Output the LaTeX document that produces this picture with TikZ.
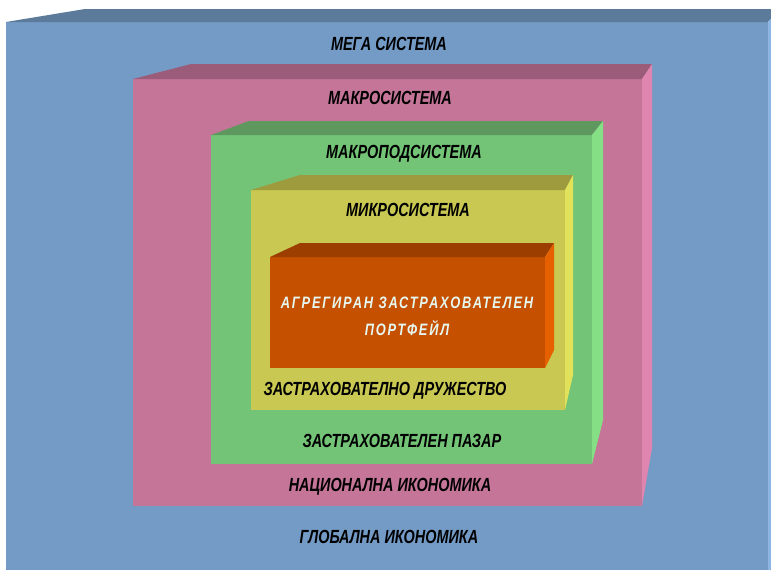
\documentclass[tikz,border=0pt]{standalone}
\usepackage{fontspec}
\newfontfamily\lbl[FakeStretch=0.76]{Liberation Sans}
\newfontfamily\lblsp[FakeStretch=0.78,LetterSpace=11]{Liberation Sans}
\definecolor{blueF}{RGB}{115,155,198}
\definecolor{blueT}{RGB}{92,123,154}
\definecolor{blueR}{RGB}{141,180,226}
\definecolor{pinkF}{RGB}{196,117,152}
\definecolor{pinkT}{RGB}{155,92,122}
\definecolor{pinkR}{RGB}{224,133,176}
\definecolor{greenF}{RGB}{115,196,119}
\definecolor{greenT}{RGB}{94,152,94}
\definecolor{greenR}{RGB}{133,224,133}
\definecolor{yellowF}{RGB}{200,200,82}
\definecolor{yellowT}{RGB}{158,154,62}
\definecolor{yellowR}{RGB}{226,226,90}
\definecolor{orangeF}{RGB}{196,80,0}
\definecolor{orangeT}{RGB}{155,62,0}
\definecolor{orangeR}{RGB}{230,96,0}
\definecolor{lighttext}{RGB}{230,248,240}
\tikzset{
  lab/.style={font=\lbl\bfseries\itshape\fontsize{19}{22}\selectfont, text=black, inner sep=0pt},
  labin/.style={font=\lblsp\bfseries\itshape\fontsize{16.5}{27}\selectfont, text=lighttext, inner sep=0pt, align=center},
}
\begin{document}
\begin{tikzpicture}[x=1pt,y=-1pt]
\useasboundingbox (0,0) rectangle (771,570);
\fill[white] (0,0) rectangle (771,570);
\clip (0,0) rectangle (771,570);
% blue (outer)
\fill[blueF] (6,22) rectangle (768,575);
\fill[blueT] (6,22) -- (85,9) -- (780,9) -- (768,22) -- cycle;
\fill[blueR] (768,22) -- (780,9) -- (780,575) -- (768,575) -- cycle;
% pink
\fill[pinkF] (133,79) rectangle (642,506);
\fill[pinkT] (133,79) -- (191,64) -- (652,64) -- (642,79) -- cycle;
\fill[pinkR] (642,79) -- (652,64) -- (652,448) -- (642,506) -- cycle;
% green
\fill[greenF] (211,135) rectangle (592,464);
\fill[greenT] (211,135) -- (249,121) -- (603,121) -- (592,135) -- cycle;
\fill[greenR] (592,135) -- (603,121) -- (603,420) -- (592,464) -- cycle;
% yellow
\fill[yellowF] (251,190) rectangle (565,410);
\fill[yellowT] (251,190) -- (300,175) -- (573,175) -- (565,190) -- cycle;
\fill[yellowR] (565,190) -- (573,175) -- (573,375) -- (565,410) -- cycle;
% orange
\fill[orangeF] (270,257) rectangle (545,368);
\fill[orangeT] (270,257) -- (300,243) -- (554,243) -- (545,257) -- cycle;
\fill[orangeR] (545,257) -- (554,243) -- (554,350) -- (545,368) -- cycle;
% labels
\node[lab] (mega) at (389,44) {МЕГА СИСТЕМА};
\node[lab] (makro) at (390,98) {МАКРОСИСТЕМА};
\node[lab] (makropod) at (404,154) {МАКРОПОДСИСТЕМА};
\node[lab] (mikro) at (408,210) {МИКРОСИСТЕМА};
\node[labin] (portf) at (407,316) {АГРЕГИРАН ЗАСТРАХОВАТЕЛЕН\\ПОРТФЕЙЛ};
\node[lab] (druj) at (385,391) {ЗАСТРАХОВАТЕЛНО ДРУЖЕСТВО};
\node[lab] (pazar) at (402,441) {ЗАСТРАХОВАТЕЛЕН ПАЗАР};
\node[lab] (nats) at (390,487) {НАЦИОНАЛНА ИКОНОМИКА};
\node[lab] (glob) at (389,537) {ГЛОБАЛНА ИКОНОМИКА};
\end{tikzpicture}
\end{document}
